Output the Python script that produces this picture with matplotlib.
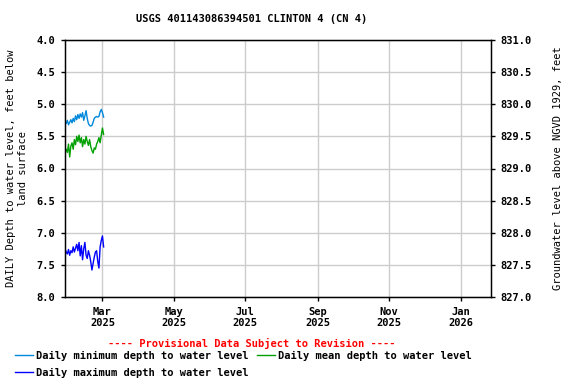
import datetime as dt

import matplotlib
matplotlib.use("Agg")
import matplotlib.pyplot as plt
import matplotlib.ticker as mticker
from matplotlib.lines import Line2D

# ── Datos ─────────────────────────────────────────────────────────────────────
start_date = dt.date(2025, 1, 28)
depth_min = [5.27, 5.30, 5.25, 5.32, 5.28, 5.24, 5.29, 5.22, 5.27, 5.18, 5.24, 5.16,
             5.22, 5.15, 5.20, 5.13, 5.25, 5.18, 5.10, 5.22, 5.30, 5.33, 5.34, 5.33,
             5.28, 5.22, 5.20, 5.19, 5.20, 5.19, 5.12, 5.08, 5.13, 5.20]
depth_mean = [5.72, 5.70, 5.75, 5.62, 5.82, 5.65, 5.60, 5.70, 5.55, 5.63, 5.50, 5.58,
              5.48, 5.60, 5.52, 5.66, 5.55, 5.62, 5.50, 5.58, 5.64, 5.55, 5.66, 5.72,
              5.76, 5.68, 5.70, 5.62, 5.58, 5.52, 5.60, 5.48, 5.37, 5.47]
depth_max = [7.25, 7.30, 7.33, 7.26, 7.35, 7.28, 7.31, 7.22, 7.30, 7.24, 7.18, 7.28,
             7.15, 7.36, 7.20, 7.42, 7.25, 7.15, 7.35, 7.40, 7.28, 7.35, 7.45, 7.58,
             7.48, 7.38, 7.30, 7.28, 7.45, 7.55, 7.22, 7.12, 7.05, 7.22]
dates = [start_date + dt.timedelta(days=i) for i in range(len(depth_min))]

tick_dates = [dt.date(2025, 3, 1), dt.date(2025, 5, 1), dt.date(2025, 7, 1),
              dt.date(2025, 9, 1), dt.date(2025, 11, 1), dt.date(2026, 1, 1)]
tick_labels = ["Mar\n2025", "May\n2025", "Jul\n2025", "Sep\n2025", "Nov\n2025", "Jan\n2026"]
datum_offset = 835.0  # elevacion = offset - profundidad

# ── Estilo ────────────────────────────────────────────────────────────────────
plt.rcParams["font.family"] = ["DejaVu Sans Mono"]
plt.rcParams["font.weight"] = "bold"
plt.rcParams["font.size"] = 7.5

c_min, c_mean, c_max = "#0088DD", "#00A000", "#0000FF"
grid_c = "#CCCCCC"

fig = plt.figure(figsize=(5.76, 3.84), dpi=100)
ax = fig.add_axes([65 / 576, 1 - 297 / 384, 426 / 576, 257 / 384])

ax.plot(dates, depth_min, color=c_min, lw=1)
ax.plot(dates, depth_mean, color=c_mean, lw=1)
ax.plot(dates, depth_max, color=c_max, lw=1)

ax.set_xlim(dt.date(2025, 1, 28), dt.date(2026, 1, 27))
ax.set_ylim(8.0, 4.0)
ax.set_yticks([4.0 + 0.5 * i for i in range(9)])
ax.yaxis.set_major_formatter(mticker.FormatStrFormatter("%.1f"))
ax.set_xticks(tick_dates)
ax.set_xticklabels(tick_labels)
ax.grid(True, color=grid_c, lw=1)
ax.tick_params(length=3, width=1, pad=4)
for s in ax.spines.values():
    s.set_linewidth(1)

ax.set_ylabel("DAILY Depth to water level, feet below\nland surface", labelpad=6,
              linespacing=1.25)

ax2 = ax.twinx()
ax2.set_ylim(datum_offset - 8.0, datum_offset - 4.0)
ax2.set_yticks([827.0 + 0.5 * i for i in range(9)])
ax2.yaxis.set_major_formatter(mticker.FormatStrFormatter("%.1f"))
ax2.tick_params(length=3, width=1, pad=4)
ax2.set_ylabel("Groundwater level above NGVD 1929, feet", labelpad=15)

fig.text(252 / 576, 1 - 19 / 384, "USGS 401143086394501 CLINTON 4 (CN 4)",
         ha="center", va="center")
fig.text(252 / 576, 1 - 343 / 384, "---- Provisional Data Subject to Revision ----",
         ha="center", va="center", color="red")

handles = [Line2D([], [], color=c_min, lw=1), Line2D([], [], color=c_max, lw=1),
           Line2D([], [], color=c_mean, lw=1)]
labels = ["Daily minimum depth to water level", "Daily maximum depth to water level",
          "Daily mean depth to water level"]
fig.legend(handles, labels, ncol=2, frameon=False, loc="upper left",
           bbox_to_anchor=(15 / 576, 1 - 351 / 384), handlelength=1.75,
           handletextpad=0.3, columnspacing=0.75, labelspacing=0.65,
           borderaxespad=0, borderpad=0)

fig.savefig("out.png", dpi=100)
